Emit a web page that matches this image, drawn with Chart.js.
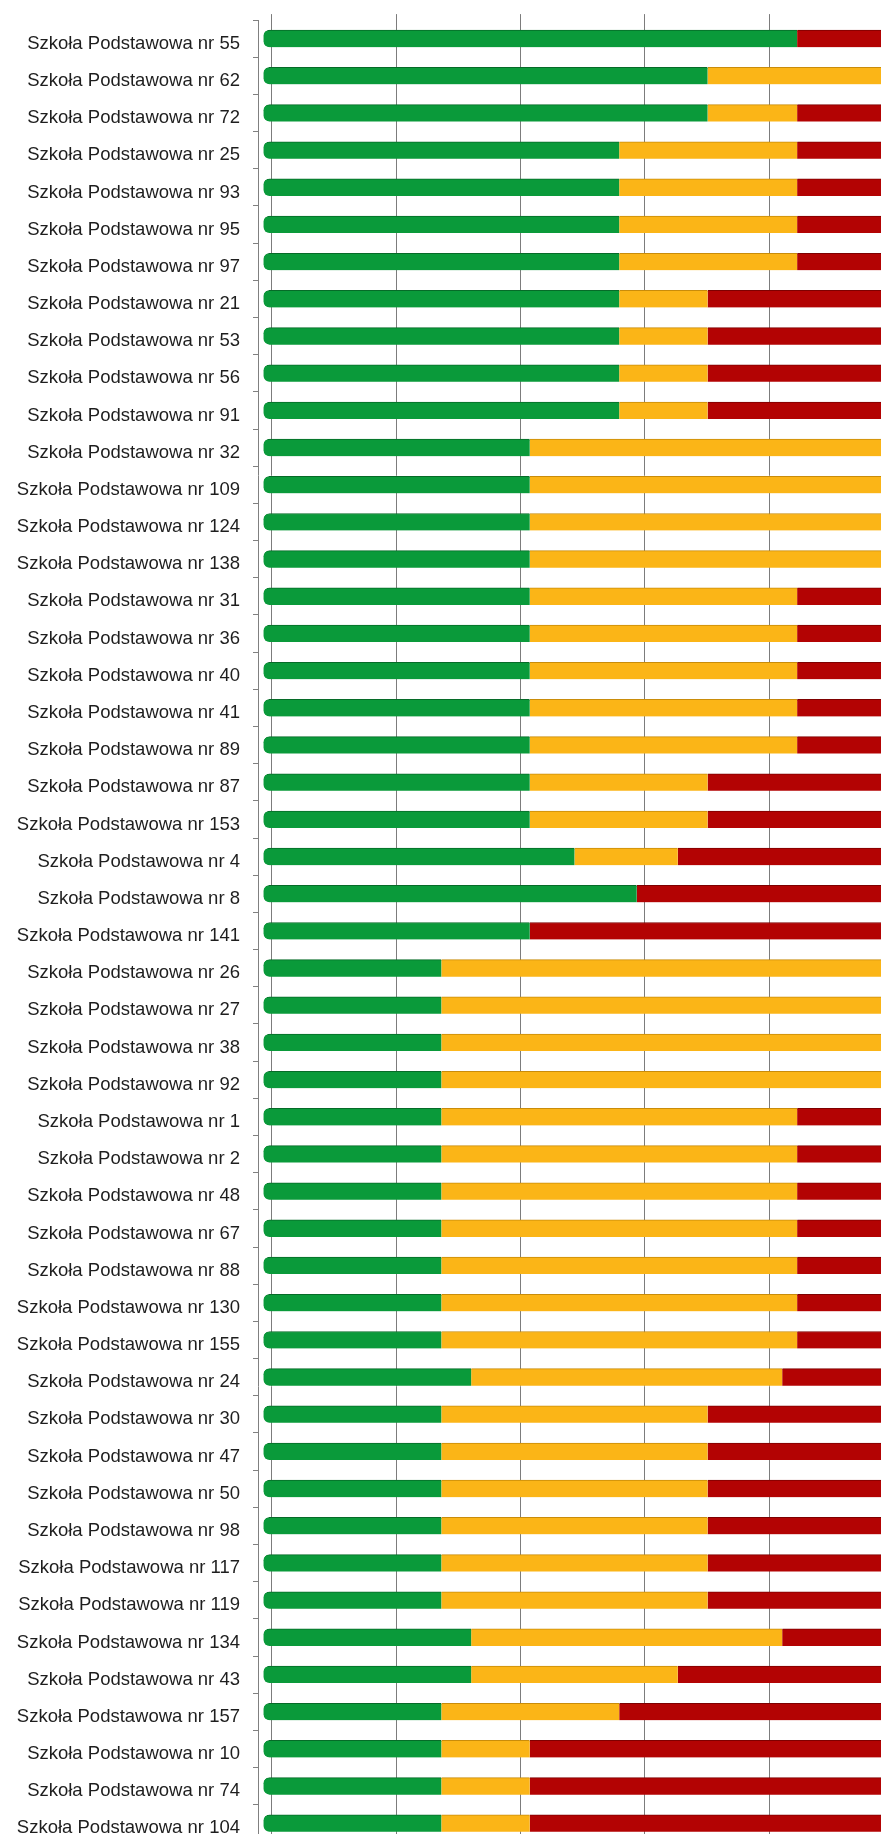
<!DOCTYPE html>
<html>
<head>
<meta charset="utf-8">
<script src="https://cdn.jsdelivr.net/npm/chart.js@4/dist/chart.umd.min.js"></script>
<style>
    html, body { margin: 0; padding: 0; background: #ffffff; overflow: hidden; }
    #wrap { width: 881px; height: 1834px; overflow: hidden; }
    #chartCanvas { display: block; margin-top: -4px; }
</style>
</head>
<body>
<div id="wrap">
    <canvas id="chartCanvas" width="881" height="1870"></canvas>
</div>
<script>
const schools = [
    'Szkoła Podstawowa nr 55', 'Szkoła Podstawowa nr 62', 'Szkoła Podstawowa nr 72',
    'Szkoła Podstawowa nr 25', 'Szkoła Podstawowa nr 93', 'Szkoła Podstawowa nr 95',
    'Szkoła Podstawowa nr 97', 'Szkoła Podstawowa nr 21', 'Szkoła Podstawowa nr 53',
    'Szkoła Podstawowa nr 56', 'Szkoła Podstawowa nr 91', 'Szkoła Podstawowa nr 32',
    'Szkoła Podstawowa nr 109', 'Szkoła Podstawowa nr 124', 'Szkoła Podstawowa nr 138',
    'Szkoła Podstawowa nr 31', 'Szkoła Podstawowa nr 36', 'Szkoła Podstawowa nr 40',
    'Szkoła Podstawowa nr 41', 'Szkoła Podstawowa nr 89', 'Szkoła Podstawowa nr 87',
    'Szkoła Podstawowa nr 153', 'Szkoła Podstawowa nr 4', 'Szkoła Podstawowa nr 8',
    'Szkoła Podstawowa nr 141', 'Szkoła Podstawowa nr 26', 'Szkoła Podstawowa nr 27',
    'Szkoła Podstawowa nr 38', 'Szkoła Podstawowa nr 92', 'Szkoła Podstawowa nr 1',
    'Szkoła Podstawowa nr 2', 'Szkoła Podstawowa nr 48', 'Szkoła Podstawowa nr 67',
    'Szkoła Podstawowa nr 88', 'Szkoła Podstawowa nr 130', 'Szkoła Podstawowa nr 155',
    'Szkoła Podstawowa nr 24', 'Szkoła Podstawowa nr 30', 'Szkoła Podstawowa nr 47',
    'Szkoła Podstawowa nr 50', 'Szkoła Podstawowa nr 98', 'Szkoła Podstawowa nr 117',
    'Szkoła Podstawowa nr 119', 'Szkoła Podstawowa nr 134', 'Szkoła Podstawowa nr 43',
    'Szkoła Podstawowa nr 157', 'Szkoła Podstawowa nr 10', 'Szkoła Podstawowa nr 74',
    'Szkoła Podstawowa nr 104',
];

// procent uczniow w kazdej grupie (wartosci)
const green = [
    42.9, 35.7, 35.7, 28.6, 28.6, 28.6, 28.6, 28.6, 28.6, 28.6,
    28.6, 21.4, 21.4, 21.4, 21.4, 21.4, 21.4, 21.4, 21.4, 21.4,
    21.4, 21.4, 25.0, 30.0, 21.4, 14.3, 14.3, 14.3, 14.3, 14.3,
    14.3, 14.3, 14.3, 14.3, 14.3, 14.3, 16.7, 14.3, 14.3, 14.3,
    14.3, 14.3, 14.3, 16.7, 16.7, 14.3, 14.3, 14.3, 14.3,
];
const yellow = [
    0, 64.3, 7.2, 14.3, 14.3, 14.3, 14.3, 7.1, 7.1, 7.1,
    7.1, 78.6, 78.6, 78.6, 78.6, 21.5, 21.5, 21.5, 21.5, 21.5,
    14.3, 14.3, 8.3, 0, 0, 85.7, 85.7, 85.7, 85.7, 28.6,
    28.6, 28.6, 28.6, 28.6, 28.6, 28.6, 25.0, 21.4, 21.4, 21.4,
    21.4, 21.4, 21.4, 25.0, 16.6, 14.3, 7.1, 7.1, 7.1,
];
const red = [
    57.1, 0, 57.1, 57.1, 57.1, 57.1, 57.1, 64.3, 64.3, 64.3,
    64.3, 0, 0, 0, 0, 57.1, 57.1, 57.1, 57.1, 57.1,
    64.3, 64.3, 66.7, 70.0, 78.6, 0, 0, 0, 0, 57.1,
    57.1, 57.1, 57.1, 57.1, 57.1, 57.1, 58.3, 64.3, 64.3, 64.3,
    64.3, 64.3, 64.3, 58.3, 66.7, 71.4, 78.6, 78.6, 78.6,
];
const gridTicks = [0, 10, 20, 30, 40];

const labelFont = { family: "'Liberation Sans', Arial, sans-serif", size: 18.5 };

const ctx = document.getElementById('chartCanvas').getContext('2d');
new Chart(ctx, {
    type: 'bar',
    data: {
        labels: schools,
        datasets: [
            {
                label: 'green',
                data: green,
                backgroundColor: '#0a9a3a',
                borderColor: '#066b28',
                borderWidth: { top: 1, right: 0, bottom: 0, left: 0 },
                borderSkipped: false,
                borderRadius: { topLeft: 6, bottomLeft: 6, topRight: 0, bottomRight: 0 },
                barThickness: 17,
            },
            {
                label: 'yellow',
                data: yellow,
                backgroundColor: '#fbb517',
                borderColor: '#c98c0a',
                borderWidth: { top: 1, right: 0, bottom: 0, left: 0 },
                borderSkipped: false,
                barThickness: 17,
            },
            {
                label: 'red',
                data: red,
                backgroundColor: '#b30303',
                borderColor: '#7e0000',
                borderWidth: { top: 1, right: 0, bottom: 0, left: 0 },
                borderSkipped: false,
                barThickness: 17,
            },
        ],
    },
    options: {
        indexAxis: 'y',
        responsive: false,
        animation: false,
        layout: { padding: { top: 8, right: 0, bottom: 0, left: 0 } },
        plugins: {
            legend: { display: false },
            tooltip: { enabled: false },
        },
        scales: {
            x: {
                stacked: true,
                display: false,
                min: -0.44,
                max: 49.64,
            },
            x2: {
                type: 'linear',
                axis: 'x',
                position: 'top',
                min: -1.10,
                max: 48.98,
                afterBuildTicks: (scale) => {
                    scale.ticks = gridTicks.map((v) => ({ value: v }));
                },
                ticks: { display: false },
                border: { display: false },
                grid: {
                    color: '#7c7c7c',
                    lineWidth: 1,
                    tickLength: 6,
                },
            },
            y: {
                stacked: true,
                afterFit: (scale) => {
                    scale.width = 258;
                },
                ticks: {
                    font: labelFont,
                    color: '#1e1e1e',
                    padding: 13,
                    labelOffset: 5,
                    autoSkip: false,
                },
                border: { display: true, color: '#808080', width: 1 },
                grid: {
                    drawOnChartArea: false,
                    offset: true,
                    tickLength: 5,
                    color: '#808080',
                },
            },
        },
    },
});
</script>
</body>
</html>
